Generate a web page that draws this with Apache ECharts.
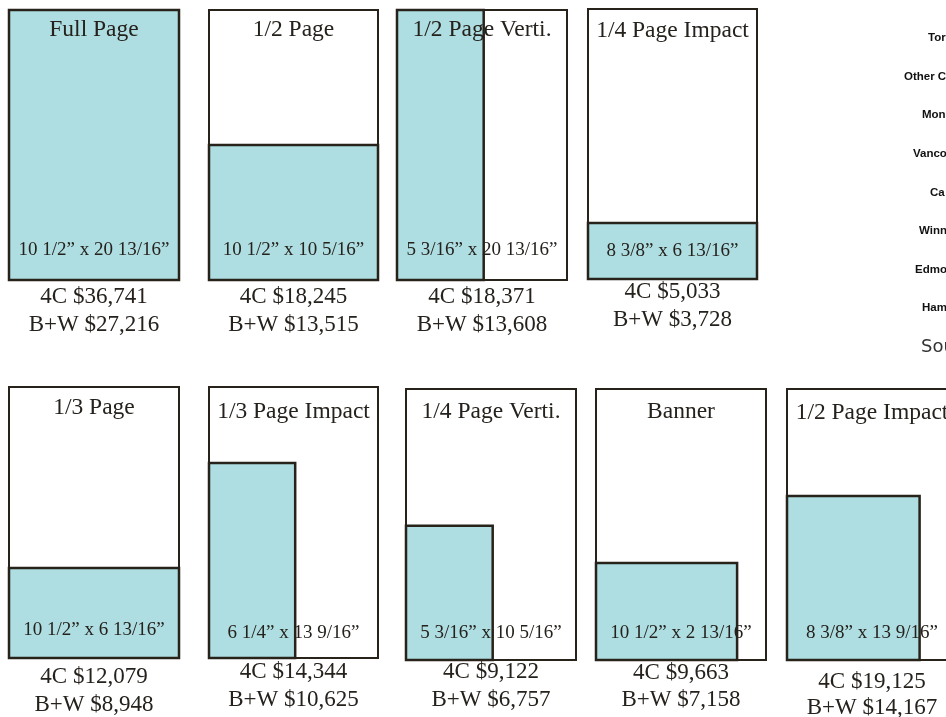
<!DOCTYPE html>
<html>
<head>
<meta charset="utf-8">
<script src="https://cdn.jsdelivr.net/npm/echarts@6/dist/echarts.min.js"></script>
<style>html,body{margin:0;padding:0;background:#fff;}#c{width:946px;height:717px;}</style>
</head>
<body>
<div id="c"></div>
<script>
// ---- data ----
const adNames = ["Full Page", "1/2 Page", "1/2 Page Verti.", "1/4 Page Impact", "1/3 Page", "1/3 Page Impact", "1/4 Page Verti.", "Banner", "1/2 Page Impact"];
const adSizes = ["10 1/2\u201d x 20 13/16\u201d", "10 1/2\u201d x 10 5/16\u201d", "5 3/16\u201d x 20 13/16\u201d", "8 3/8\u201d x 6 13/16\u201d", "10 1/2\u201d x 6 13/16\u201d", "6 1/4\u201d x 13 9/16\u201d", "5 3/16\u201d x 10 5/16\u201d", "10 1/2\u201d x 2 13/16\u201d", "8 3/8\u201d x 13 9/16\u201d"];
const price4C = [36741, 18245, 18371, 5033, 12079, 14344, 9122, 9663, 19125];
const priceBW = [27216, 13515, 13608, 3728, 8948, 10625, 6757, 7158, 14167];
// share of the page outline covered by the ad, as drawn (width, height)
const adWidthShare = [1, 1, 0.51, 1, 1, 0.51, 0.51, 0.83, 0.78];
const adHeightShare = [1, 0.5, 1, 0.207, 0.332, 0.72, 0.495, 0.358, 0.605];
const sideLabels = ["Tor", "Other C", "Mon", "Vanco", "Ca", "Winn", "Edmo", "Ham"];
const sourceLabel = "Sou";

// ---- layout ----
const W = 946;
const boxes = [[9,10,170,270],[209,10,169,270],[397,10,170,270],[588,9,169,270],[9,387,170,271],[209,387,169,271],[406,389,170,271],[596,389,170,271],[787,389,170,271]];
const titleOff = [20,20,20,22,21,25,23,23,24];
const sizeOff = [30,30,30,28,28,25,27,27,27];
const priceOff = [[17,45],[17,45],[17,45],[13,41],[19,47],[14,42],[12,40],[13,40],[22,48]];
const sideX = [928,904,922,913,930,919,915,922];

const TEAL = '#aedee1', INK = '#27221a', TXT = '#25211c';
const SERIF = '"Liberation Serif", "Times New Roman", serif';
const fmt = v => '$' + v.toLocaleString('en-US');

const grids = [], xAxes = [], yAxes = [], series = [];
adNames.forEach((name, i) => {
  const b = boxes[i];
  const visW = Math.min(b[2], W - b[0]);       // grid is kept inside the canvas
  grids.push({left: b[0], top: b[1], width: visW, height: b[3], containLabel: false});
  xAxes.push({type: 'value', gridIndex: i, min: 0, max: visW / b[2], show: false});
  yAxes.push({type: 'value', gridIndex: i, min: 0, max: 1, show: false});
  series.push({
    type: 'custom', xAxisIndex: i, yAxisIndex: i, silent: true, clip: false,
    data: [[adWidthShare[i], adHeightShare[i]]],
    renderItem: (params, api) => {
      const tl = api.coord([0, 1]), br = api.coord([1, 0]);
      const adTop = api.coord([0, api.value(1)]), adRight = api.coord([api.value(0), 0]);
      const cx = (tl[0] + br[0]) / 2;
      const txt = (t, x, y, size) => ({type: 'text', style: {text: t, x: x, y: y, textAlign: 'center', textVerticalAlign: 'middle', align: 'center', verticalAlign: 'middle', font: size + 'px ' + SERIF, fill: TXT}});
      return {type: 'group', children: [
        {type: 'rect', shape: {x: tl[0], y: tl[1], width: br[0] - tl[0], height: br[1] - tl[1]}, style: {fill: '#fff', stroke: INK, lineWidth: 2}},
        {type: 'rect', shape: {x: tl[0], y: adTop[1], width: adRight[0] - tl[0], height: br[1] - adTop[1]}, style: {fill: TEAL, stroke: INK, lineWidth: 2.5}},
        txt(name, cx, tl[1] + titleOff[i], 23.5),
        txt(adSizes[i], cx, br[1] - sizeOff[i], 19),
        txt('4C ' + fmt(price4C[i]), cx, br[1] + priceOff[i][0], 23),
        txt('B+W ' + fmt(priceBW[i]), cx, br[1] + priceOff[i][1], 23)
      ]};
    }
  });
});

const graphic = sideLabels.map((t, i) => ({
  type: 'text', left: sideX[i], top: 38 + i * 38.6 - 6,
  style: {text: t, font: 'bold 11.5px "Liberation Sans", Arial, sans-serif', fill: '#111'}
}));
graphic.push({type: 'text', left: 921, top: 338, style: {text: sourceLabel, font: '18px "DejaVu Sans", sans-serif', fill: '#333'}});

const chart = echarts.init(document.getElementById('c'), null, {renderer: 'canvas'});
chart.setOption({animation: false, grid: grids, xAxis: xAxes, yAxis: yAxes, series: series, graphic: graphic});
</script>
</body>
</html>
